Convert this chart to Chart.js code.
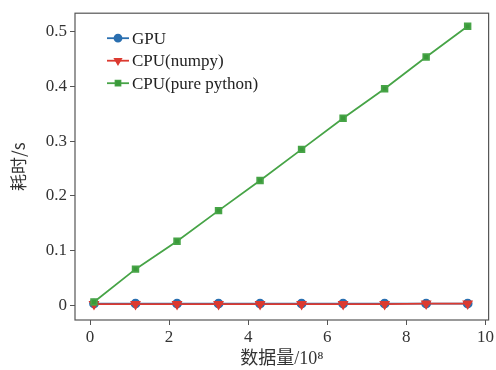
<!DOCTYPE html>
<html>
<head>
<meta charset="utf-8">
<script src="https://cdn.jsdelivr.net/npm/chart.js@4"></script>
<style>
  html, body { margin: 0; padding: 0; background: #fff; }
  #wrap { width: 496px; height: 370px; }
</style>
</head>
<body>
<div id="wrap"><canvas id="chart" width="496" height="370"></canvas></div>
<script>
const dataSize = [0.1, 1.15, 2.2, 3.25, 4.3, 5.35, 6.4, 7.45, 8.5, 9.55];
const gpuTime = [0.003, 0.003, 0.003, 0.003, 0.003, 0.003, 0.003, 0.003, 0.003, 0.003];
const numpyTime = [0.002, 0.002, 0.002, 0.002, 0.002, 0.002, 0.002, 0.002, 0.003, 0.003];
const pureTime = [0.006, 0.066, 0.117, 0.173, 0.228, 0.285, 0.342, 0.396, 0.454, 0.510];
const seriesNames = ["GPU", "CPU(numpy)", "CPU(pure python)"];
const xTicks = [0, 2, 4, 6, 8, 10];
const yTicks = [0, 0.1, 0.2, 0.3, 0.4, 0.5];

const serif = "'Liberation Serif', 'Noto Sans CJK SC', serif";

function pts(ys) {
    return dataSize.map((x, i) => ({ x: x, y: ys[i] }));
}

// box round the plot + legend in the upper left corner
const framePlugin = {
    id: "frame",
    afterDraw(chart) {
        const ctx = chart.ctx;
        const a = chart.chartArea;
        ctx.save();
        ctx.strokeStyle = "#555";
        ctx.lineWidth = 1.2;
        ctx.strokeRect(a.left, a.top, a.right - a.left, a.bottom - a.top);

        const x0 = a.left + 32;
        let y = a.top + 25;
        chart.data.datasets.forEach(ds => {
            ctx.strokeStyle = ds.borderColor;
            ctx.lineWidth = 1.8;
            ctx.beginPath();
            ctx.moveTo(x0, y);
            ctx.lineTo(x0 + 22, y);
            ctx.stroke();
            Chart.helpers.drawPoint(ctx, {
                pointStyle: ds.pointStyle,
                rotation: ds.pointRotation || 0,
                radius: 3.5,
                borderWidth: 1
            }, x0 + 11, y);
            ctx.fillStyle = ds.backgroundColor;
            ctx.fill();
            ctx.fillStyle = "#222";
            ctx.font = "17px " + serif;
            ctx.textBaseline = "middle";
            ctx.textAlign = "left";
            ctx.fillText(ds.label, x0 + 25, y + 1);
            y += 22.5;
        });
        ctx.restore();
    }
};

new Chart(document.getElementById("chart"), {
    type: "line",
    data: {
        datasets: [
            {
                label: seriesNames[0],
                data: pts(gpuTime),
                borderColor: "#2a6fb0",
                backgroundColor: "#2a6fb0",
                pointStyle: "circle",
                pointRadius: 4,
                borderWidth: 1.8,
                order: 2
            },
            {
                label: seriesNames[1],
                data: pts(numpyTime),
                borderColor: "#dc3a30",
                backgroundColor: "#dc3a30",
                pointStyle: "triangle",
                pointRotation: 180,
                pointRadius: 4.5,
                borderWidth: 1.8,
                order: 1
            },
            {
                label: seriesNames[2],
                data: pts(pureTime),
                borderColor: "#47a447",
                backgroundColor: "#3a9a3a",
                pointStyle: "rect",
                pointRadius: 4,
                borderWidth: 1.8,
                order: 0
            }
        ]
    },
    options: {
        responsive: false,
        animation: false,
        layout: { padding: { top: 12, right: 5, left: 0, bottom: 0 } },
        plugins: {
            legend: { display: false },
            tooltip: { enabled: false }
        },
        scales: {
            x: {
                type: "linear",
                min: -0.38,
                max: 10.08,
                afterBuildTicks: s => { s.ticks = xTicks.map(v => ({ value: v })); },
                afterFit: s => { s.height = 50; },
                border: { display: false },
                grid: { drawOnChartArea: false, drawTicks: true, tickLength: 5, color: "#555" },
                ticks: {
                    color: "#333",
                    padding: 2,
                    maxRotation: 0,
                    font: { family: serif, size: 17 }
                },
                title: {
                    display: true,
                    text: "数据量/10⁸",
                    color: "#333",
                    padding: { top: 0, bottom: 0 },
                    font: { family: serif, size: 18 }
                }
            },
            y: {
                min: -0.027,
                max: 0.534,
                afterBuildTicks: s => { s.ticks = yTicks.map(v => ({ value: v })); },
                afterFit: s => { s.width = 75; },
                border: { display: false },
                grid: { drawOnChartArea: false, drawTicks: true, tickLength: 5, color: "#555" },
                ticks: {
                    color: "#333",
                    padding: 3,
                    font: { family: serif, size: 17 },
                    callback: v => v === 0 ? "0" : v.toFixed(1)
                },
                title: {
                    display: true,
                    text: "耗时/s",
                    color: "#333",
                    padding: { top: 8, bottom: 0 },
                    font: { family: "'Noto Sans CJK SC', sans-serif", size: 17 }
                }
            }
        }
    },
    plugins: [framePlugin]
});
</script>
</body>
</html>
